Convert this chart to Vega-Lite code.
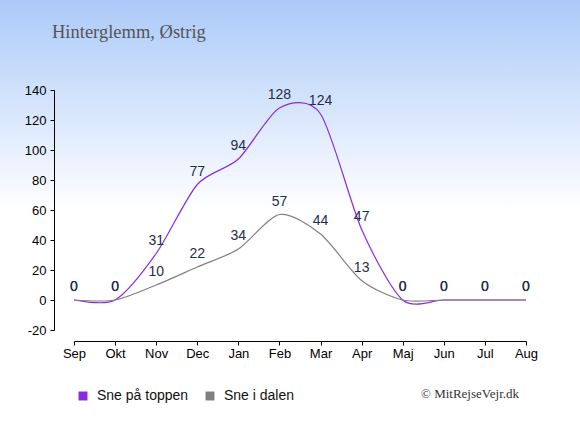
{
  "$schema": "https://vega.github.io/schema/vega-lite/v6.json",
  "width": 452,
  "height": 240,
  "autosize": {"type": "none"},
  "padding": {"left": 74, "top": 90, "right": 54, "bottom": 105},
  "background": "#ffffff",
  "title": {
    "text": "Hinterglemm, Østrig",
    "anchor": "start",
    "frame": "group",
    "dx": -22,
    "dy": 62,
    "offset": 0,
    "baseline": "alphabetic",
    "font": "Liberation Serif",
    "fontSize": 18.5,
    "fontWeight": "normal",
    "color": "#555555"
  },
  "datasets": {
    "snow": [
      {"month": "Sep", "serie": "Sne på toppen", "cm": 0},
      {"month": "Okt", "serie": "Sne på toppen", "cm": 0},
      {"month": "Nov", "serie": "Sne på toppen", "cm": 31},
      {"month": "Dec", "serie": "Sne på toppen", "cm": 77},
      {"month": "Jan", "serie": "Sne på toppen", "cm": 94},
      {"month": "Feb", "serie": "Sne på toppen", "cm": 128},
      {"month": "Mar", "serie": "Sne på toppen", "cm": 124},
      {"month": "Apr", "serie": "Sne på toppen", "cm": 47},
      {"month": "Maj", "serie": "Sne på toppen", "cm": 0},
      {"month": "Jun", "serie": "Sne på toppen", "cm": 0},
      {"month": "Jul", "serie": "Sne på toppen", "cm": 0},
      {"month": "Aug", "serie": "Sne på toppen", "cm": 0},
      {"month": "Sep", "serie": "Sne i dalen", "cm": 0},
      {"month": "Okt", "serie": "Sne i dalen", "cm": 0},
      {"month": "Nov", "serie": "Sne i dalen", "cm": 10},
      {"month": "Dec", "serie": "Sne i dalen", "cm": 22},
      {"month": "Jan", "serie": "Sne i dalen", "cm": 34},
      {"month": "Feb", "serie": "Sne i dalen", "cm": 57},
      {"month": "Mar", "serie": "Sne i dalen", "cm": 44},
      {"month": "Apr", "serie": "Sne i dalen", "cm": 13},
      {"month": "Maj", "serie": "Sne i dalen", "cm": 0},
      {"month": "Jun", "serie": "Sne i dalen", "cm": 0},
      {"month": "Jul", "serie": "Sne i dalen", "cm": 0},
      {"month": "Aug", "serie": "Sne i dalen", "cm": 0}
    ],
    "bg": [{"part": "background"}],
    "note": [{"text": "© MitRejseVejr.dk"}]
  },
  "layer": [
    {
      "data": {"name": "bg"},
      "mark": {
        "type": "rect",
        "fill": {
          "gradient": "linear",
          "x1": 0, "y1": 0, "x2": 0, "y2": 1,
          "stops": [
            {"offset": 0, "color": "#a8c8f8"},
            {"offset": 0.486, "color": "#ffffff"},
            {"offset": 1, "color": "#ffffff"}
          ]
        }
      },
      "encoding": {
        "x": {"datum": -0.2, "type": "quantitative", "scale": {"domain": [0, 1], "nice": false, "zero": false}, "axis": null},
        "x2": {"datum": 1.2},
        "y": {"datum": 1.4, "type": "quantitative", "scale": {"domain": [0, 1], "nice": false, "zero": false}, "axis": null},
        "y2": {"datum": -0.45}
      }
    },
    {
      "layer": [
        {
          "data": {"name": "snow"},
          "mark": {"type": "line", "interpolate": "cardinal", "tension": 0.2, "strokeWidth": 1.2},
          "encoding": {
            "x": {
              "field": "month",
              "type": "nominal",
              "scale": {"type": "point", "padding": 0, "domain": ["Sep", "Okt", "Nov", "Dec", "Jan", "Feb", "Mar", "Apr", "Maj", "Jun", "Jul", "Aug"]},
              "axis": {
                "title": null,
                "zindex": 1,
                "offset": 11,
                "labelAngle": 0,
                "labelFont": "Liberation Sans",
                "labelFontSize": 13,
                "labelColor": "#000000",
                "labelPadding": 2,
                "tickSize": 4,
                "tickColor": "#000000",
                "domainColor": "#000000",
                "grid": false
              }
            },
            "y": {
              "field": "cm",
              "type": "quantitative",
              "scale": {"domain": [-20, 140], "nice": false, "zero": false},
              "axis": {
                "title": null,
                "zindex": 1,
                "offset": 20,
                "values": [-20, 0, 20, 40, 60, 80, 100, 120, 140],
                "tickCount": 9,
                "labelExpr": "toString(datum.value)",
                "labelOverlap": false,
                "labelFont": "Liberation Sans",
                "labelFontSize": 13,
                "labelColor": "#000000",
                "labelPadding": 4,
                "tickSize": 4,
                "tickColor": "#000000",
                "domainColor": "#000000",
                "grid": false
              }
            },
            "color": {
              "field": "serie",
              "type": "nominal",
              "scale": {"domain": ["Sne på toppen", "Sne i dalen"], "range": ["#8a2be2", "#808080"]},
              "legend": {
                "orient": "none",
                "legendX": 2,
                "legendY": 299,
                "direction": "horizontal",
                "title": null,
                "symbolType": "square",
                "symbolSize": 80,
                "symbolStrokeWidth": 0,
                "labelFont": "Liberation Sans",
                "labelFontSize": 14,
                "labelColor": "#111111",
                "labelOffset": 7,
                "columnPadding": 14,
                "encode": {
                  "symbols": {"update": {"fill": {"scale": "color", "field": "value"}, "strokeWidth": {"value": 0}}}
                }
              }
            }
          }
        },
        {
          "data": {"name": "snow"},
          "mark": {"type": "text", "dy": -9, "baseline": "alphabetic", "font": "Liberation Sans", "fontSize": 14, "color": "#1e2d4a"},
          "encoding": {
            "x": {"field": "month", "type": "nominal"},
            "y": {"field": "cm", "type": "quantitative"},
            "text": {"field": "cm", "type": "quantitative"},
            "detail": {"field": "serie"}
          }
        },
        {
          "data": {"name": "note"},
          "mark": {"type": "text", "align": "right", "dx": -7, "baseline": "alphabetic", "font": "Liberation Serif", "fontSize": 13, "color": "#333333"},
          "encoding": {
            "x": {"datum": "Aug", "type": "nominal"},
            "y": {"datum": -65, "type": "quantitative"},
            "text": {"field": "text"}
          }
        }
      ]
    }
  ],
  "resolve": {"scale": {"x": "independent", "y": "independent"}},
  "config": {"view": {"stroke": null}}
}
